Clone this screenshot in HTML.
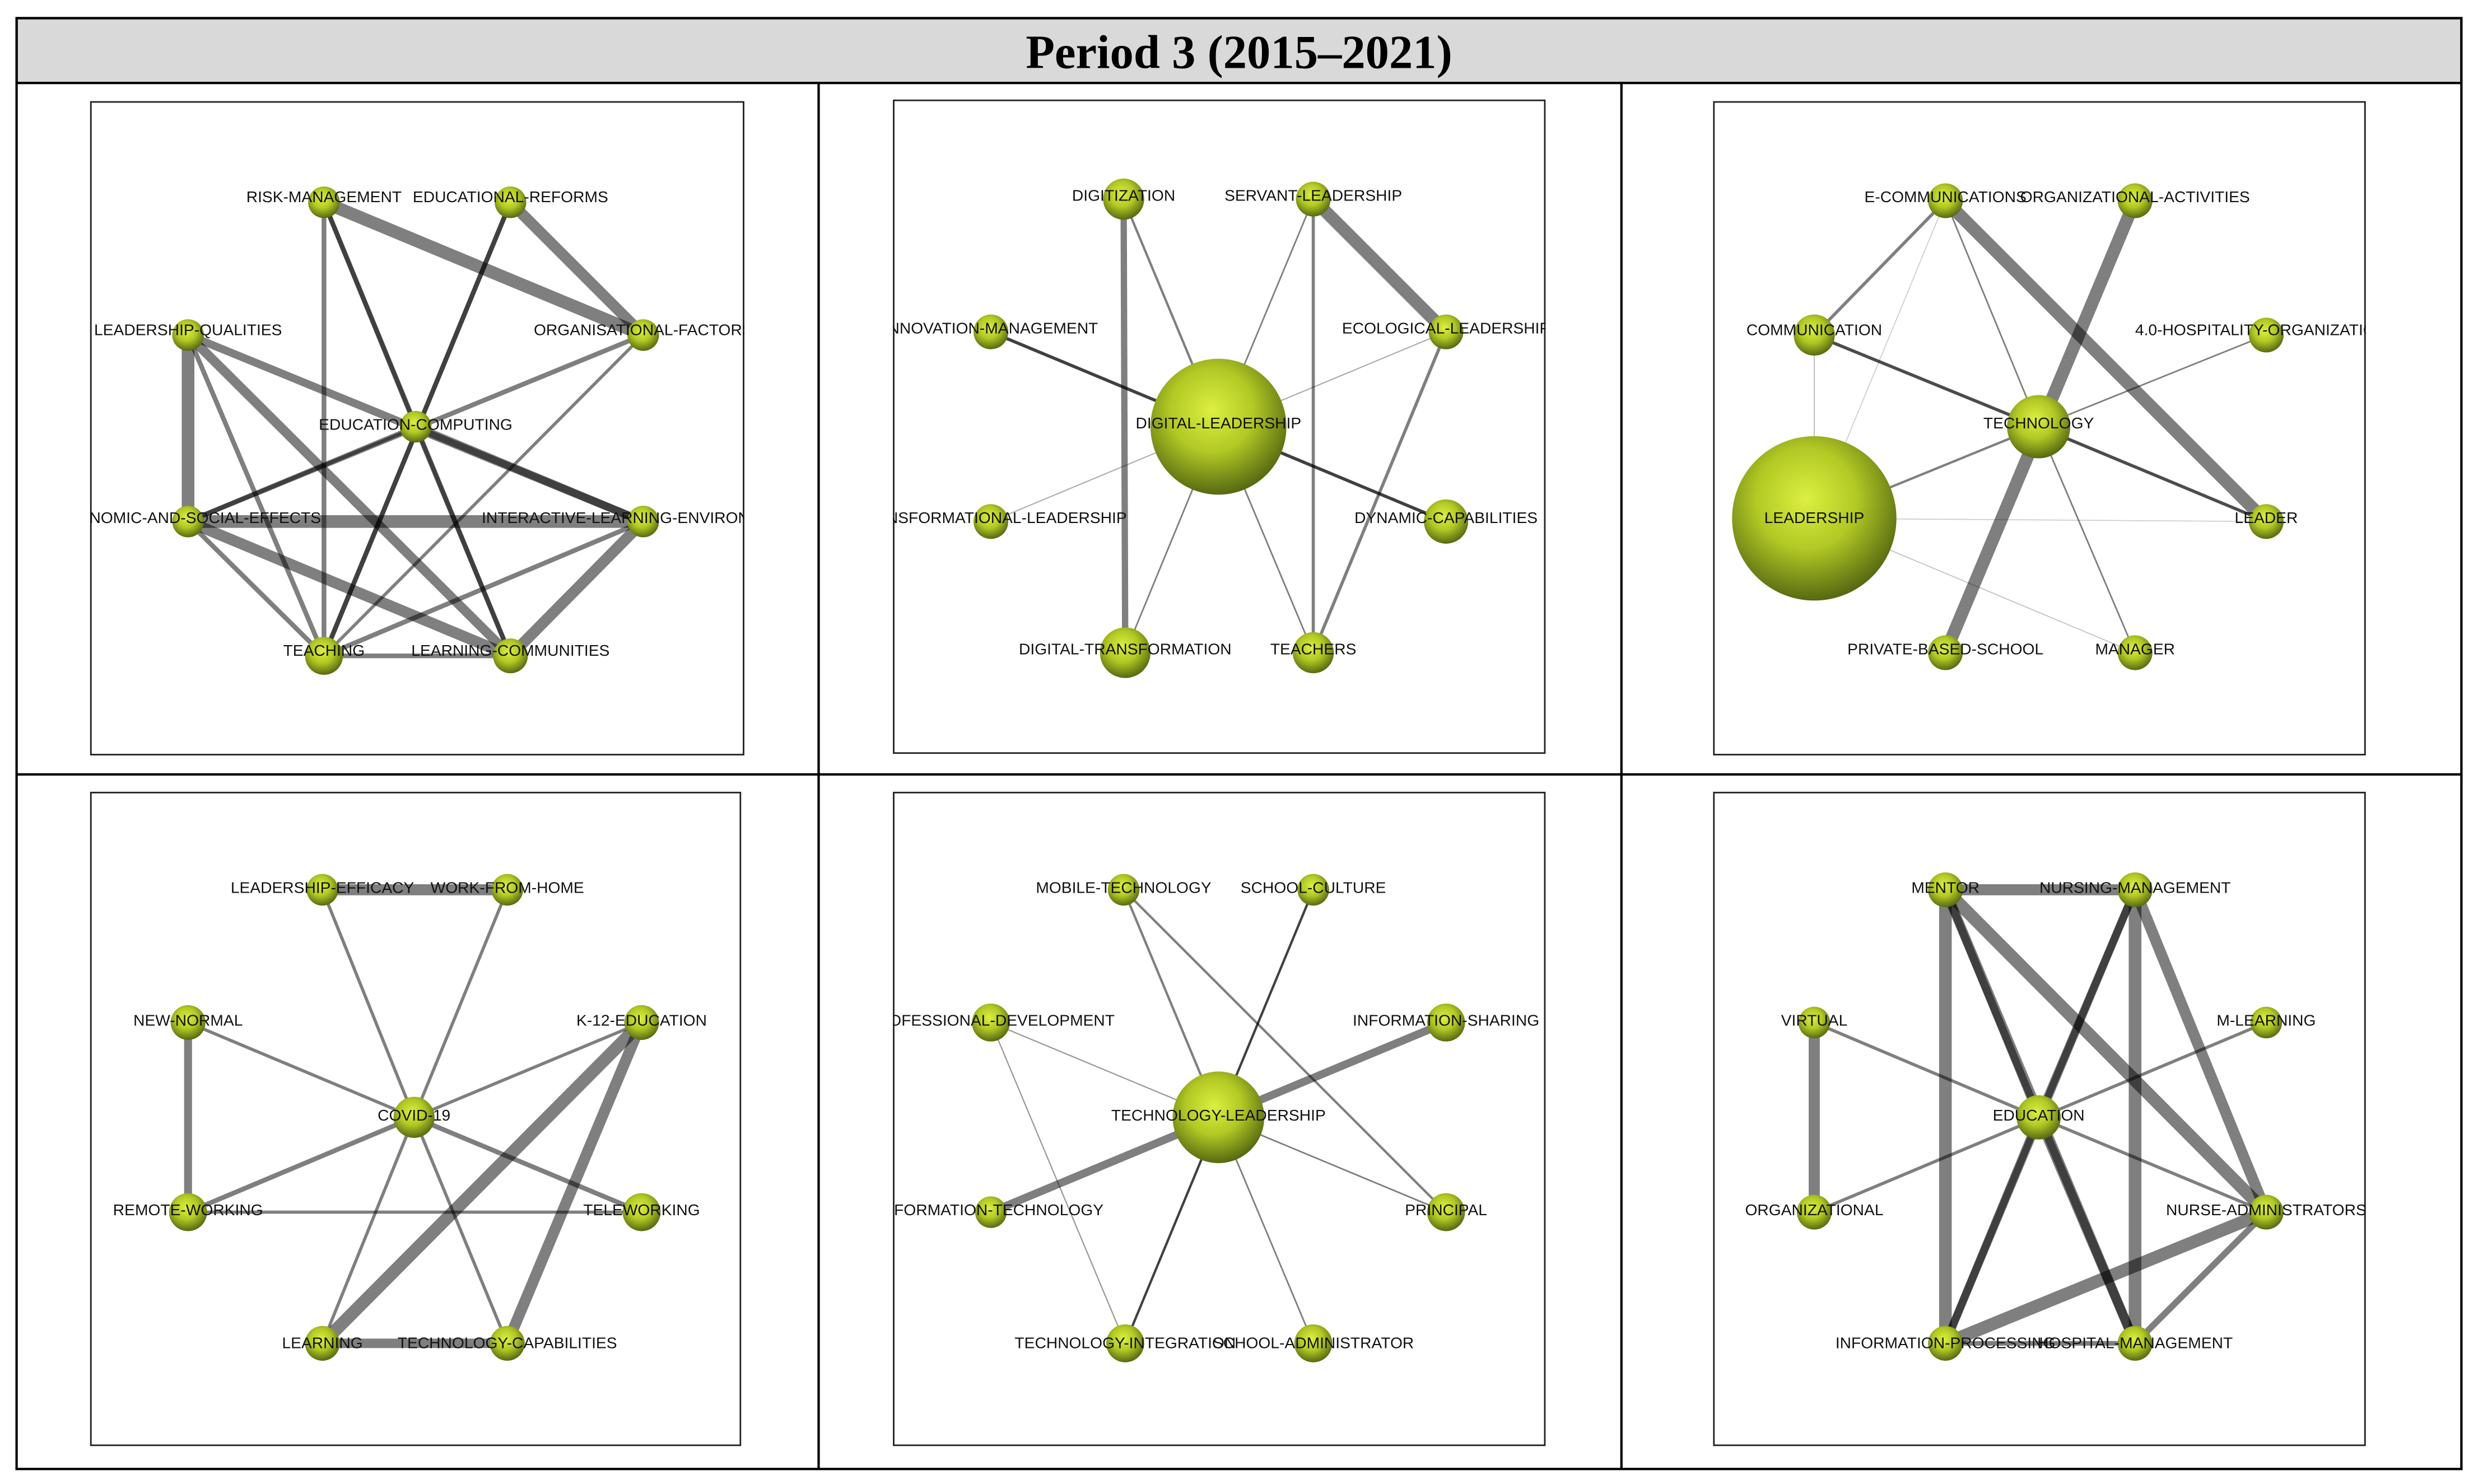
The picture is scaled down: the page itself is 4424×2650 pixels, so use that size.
<!DOCTYPE html>
<html><head><meta charset="utf-8"><style>html,body{margin:0;padding:0;background:#fff}svg{display:block}</style></head>
<body>
<svg width="4424" height="2650" viewBox="0 0 1568 939" preserveAspectRatio="none" xmlns="http://www.w3.org/2000/svg">
<defs>
<radialGradient id="g" cx="0.45" cy="0.38" r="0.62">
<stop offset="0" stop-color="#dcf040"/><stop offset="0.5" stop-color="#b2c824"/><stop offset="1" stop-color="#566a12"/>
</radialGradient>
<clipPath id="c1"><rect x="57" y="64" width="414" height="414"/></clipPath>
<clipPath id="c2"><rect x="565" y="63" width="413" height="414"/></clipPath>
<clipPath id="c3"><rect x="1084" y="64" width="413" height="414"/></clipPath>
<clipPath id="c4"><rect x="57" y="501" width="412" height="414"/></clipPath>
<clipPath id="c5"><rect x="565" y="501" width="413" height="414"/></clipPath>
<clipPath id="c6"><rect x="1084" y="501" width="413" height="414"/></clipPath>
</defs>
<rect x="0" y="0" width="1568" height="939" fill="#fff"/>
<rect x="10.5" y="11.5" width="1547" height="41" fill="#d9d9d9" stroke="#000" stroke-width="1.5"/>
<text x="784" y="43" text-anchor="middle" font-family="Liberation Serif, serif" font-weight="bold" font-size="30">Period 3 (2015–2021)</text>
<rect x="10.5" y="11.5" width="1547" height="918" fill="none" stroke="#000" stroke-width="1.5"/>
<line x1="518" y1="52" x2="518" y2="929" stroke="#000" stroke-width="1.5"/>
<line x1="1026" y1="52" x2="1026" y2="929" stroke="#000" stroke-width="1.5"/>
<line x1="10" y1="490" x2="1557" y2="490" stroke="#000" stroke-width="1.5"/>
<g fill="none" stroke="#222" stroke-width="1">
<rect x="57.5" y="64.5" width="413" height="413"/>
<rect x="565.5" y="63.5" width="412" height="413"/>
<rect x="1084.5" y="64.5" width="412" height="413"/>
<rect x="57.5" y="501.5" width="411" height="413"/>
<rect x="565.5" y="501.5" width="412" height="413"/>
<rect x="1084.5" y="501.5" width="412" height="413"/>
</g>

<!-- Panel 1 -->
<g clip-path="url(#c1)">
<g stroke="#000" stroke-opacity="0.5" stroke-linecap="round">
<line x1="205" y1="128" x2="407" y2="212" stroke-width="8"/>
<line x1="323" y1="128" x2="407" y2="212" stroke-width="7"/>
<line x1="323" y1="128" x2="205" y2="415" stroke-width="3" stroke-opacity="0.75"/>
<line x1="205" y1="128" x2="205" y2="415" stroke-width="3"/>
<line x1="205" y1="128" x2="263" y2="270" stroke-width="3"/>
<line x1="205" y1="128" x2="323" y2="415" stroke-width="3"/>
<line x1="119" y1="212" x2="119" y2="330" stroke-width="8"/>
<line x1="119" y1="212" x2="323" y2="415" stroke-width="6"/>
<line x1="119" y1="212" x2="407" y2="330" stroke-width="5"/>
<line x1="119" y1="212" x2="205" y2="415" stroke-width="3"/>
<line x1="119" y1="330" x2="407" y2="330" stroke-width="8"/>
<line x1="119" y1="330" x2="263" y2="270" stroke-width="3"/>
<line x1="119" y1="330" x2="407" y2="212" stroke-width="3"/>
<line x1="119" y1="330" x2="323" y2="415" stroke-width="7"/>
<line x1="119" y1="330" x2="205" y2="415" stroke-width="3"/>
<line x1="263" y1="270" x2="407" y2="330" stroke-width="5"/>
<line x1="263" y1="270" x2="323" y2="415" stroke-width="3"/>
<line x1="407" y1="330" x2="323" y2="415" stroke-width="7"/>
<line x1="407" y1="330" x2="205" y2="415" stroke-width="3"/>
<line x1="407" y1="212" x2="205" y2="415" stroke-width="2"/>
<line x1="205" y1="415" x2="323" y2="415" stroke-width="3"/>
</g>
<g fill="url(#g)">
<circle cx="205" cy="128" r="10"/><circle cx="323" cy="128" r="10"/><circle cx="119" cy="212" r="10"/><circle cx="407" cy="212" r="10"/><circle cx="263" cy="270" r="10"/><circle cx="119" cy="330" r="10"/><circle cx="407" cy="330" r="10"/><circle cx="205" cy="415" r="12"/><circle cx="323" cy="415" r="11"/>
</g>
<g font-family="Liberation Sans, sans-serif" font-size="10" text-anchor="middle" fill="#111">
<text x="205" y="128">RISK-MANAGEMENT</text><text x="323" y="128">EDUCATIONAL-REFORMS</text><text x="119" y="212">LEADERSHIP-QUALITIES</text><text x="407" y="212">ORGANISATIONAL-FACTORS</text><text x="263" y="272">EDUCATION-COMPUTING</text><text x="119" y="331">ECONOMIC-AND-SOCIAL-EFFECTS</text><text x="407" y="331">INTERACTIVE-LEARNING-ENVIRONMENTS</text><text x="205" y="415">TEACHING</text><text x="323" y="415">LEARNING-COMMUNITIES</text>
</g>
</g>

<!-- Panel 2 -->
<g clip-path="url(#c2)">
<g stroke="#000" stroke-opacity="0.5" stroke-linecap="round">
<line x1="711" y1="126" x2="712" y2="413" stroke-width="4"/>
<line x1="831" y1="126" x2="915" y2="210" stroke-width="8"/>
<line x1="831" y1="126" x2="831" y2="413" stroke-width="2"/>
<line x1="831" y1="126" x2="771" y2="270" stroke-width="1"/>
<line x1="915" y1="210" x2="831" y2="413" stroke-width="2"/>
<line x1="915" y1="210" x2="771" y2="270" stroke-width="0.7" stroke-opacity="0.35"/>
<line x1="627" y1="210" x2="771" y2="270" stroke-width="2" stroke-opacity="0.75"/>
<line x1="771" y1="270" x2="915" y2="330" stroke-width="2" stroke-opacity="0.75"/>
<line x1="711" y1="126" x2="771" y2="270" stroke-width="1.5"/>
<line x1="771" y1="270" x2="627" y2="330" stroke-width="0.8" stroke-opacity="0.3"/>
<line x1="771" y1="270" x2="712" y2="413" stroke-width="1"/>
<line x1="771" y1="270" x2="831" y2="413" stroke-width="1"/>
</g>
<g fill="url(#g)">
<circle cx="711" cy="126" r="13"/><circle cx="831" cy="126" r="11"/><circle cx="627" cy="210" r="11"/><circle cx="915" cy="210" r="11"/><circle cx="771" cy="270" r="43"/><circle cx="627" cy="330" r="11"/><circle cx="915" cy="330" r="14"/><circle cx="712" cy="413" r="16"/><circle cx="831" cy="413" r="13"/>
</g>
<g font-family="Liberation Sans, sans-serif" font-size="10" text-anchor="middle" fill="#111">
<text x="711" y="127">DIGITIZATION</text><text x="831" y="127">SERVANT-LEADERSHIP</text><text x="627" y="211">INNOVATION-MANAGEMENT</text><text x="915" y="211">ECOLOGICAL-LEADERSHIP</text><text x="771" y="271">DIGITAL-LEADERSHIP</text><text x="627" y="331">TRANSFORMATIONAL-LEADERSHIP</text><text x="915" y="331">DYNAMIC-CAPABILITIES</text><text x="712" y="414">DIGITAL-TRANSFORMATION</text><text x="831" y="414">TEACHERS</text>
</g>
</g>

<!-- Panel 3 -->
<g clip-path="url(#c3)">
<g stroke="#000" stroke-opacity="0.5" stroke-linecap="round">
<line x1="1231" y1="127" x2="1434" y2="330" stroke-width="8"/>
<line x1="1351" y1="127" x2="1231" y2="413" stroke-width="8"/>
<line x1="1231" y1="127" x2="1148" y2="212" stroke-width="2"/>
<line x1="1231" y1="127" x2="1290" y2="270" stroke-width="1"/>
<line x1="1231" y1="127" x2="1148" y2="328" stroke-width="0.6" stroke-opacity="0.2"/>
<line x1="1148" y1="212" x2="1290" y2="270" stroke-width="2" stroke-opacity="0.7"/>
<line x1="1148" y1="212" x2="1148" y2="328" stroke-width="0.6" stroke-opacity="0.3"/>
<line x1="1290" y1="270" x2="1434" y2="330" stroke-width="2" stroke-opacity="0.7"/>
<line x1="1290" y1="270" x2="1434" y2="212" stroke-width="1"/>
<line x1="1290" y1="270" x2="1351" y2="413" stroke-width="1"/>
<line x1="1290" y1="270" x2="1148" y2="328" stroke-width="1.5"/>
<line x1="1148" y1="328" x2="1434" y2="330" stroke-width="0.6" stroke-opacity="0.2"/>
<line x1="1148" y1="328" x2="1351" y2="413" stroke-width="0.6" stroke-opacity="0.25"/>
</g>
<g fill="url(#g)">
<circle cx="1231" cy="127" r="11"/><circle cx="1351" cy="127" r="11"/><circle cx="1148" cy="212" r="13"/><circle cx="1434" cy="212" r="11"/><circle cx="1290" cy="270" r="20"/><circle cx="1148" cy="328" r="52"/><circle cx="1434" cy="330" r="11"/><circle cx="1231" cy="413" r="11"/><circle cx="1351" cy="413" r="11"/>
</g>
<g font-family="Liberation Sans, sans-serif" font-size="10" text-anchor="middle" fill="#111">
<text x="1231" y="128">E-COMMUNICATIONS</text><text x="1351" y="128">ORGANIZATIONAL-ACTIVITIES</text><text x="1148" y="212">COMMUNICATION</text><text x="1434" y="212">4.0-HOSPITALITY-ORGANIZATIONS</text><text x="1290" y="271">TECHNOLOGY</text><text x="1148" y="331">LEADERSHIP</text><text x="1434" y="331">LEADER</text><text x="1231" y="414">PRIVATE-BASED-SCHOOL</text><text x="1351" y="414">MANAGER</text>
</g>
</g>

<!-- Panel 4 -->
<g clip-path="url(#c4)">
<g stroke="#000" stroke-opacity="0.5" stroke-linecap="round">
<line x1="204" y1="563" x2="321" y2="563" stroke-width="7"/>
<line x1="204" y1="563" x2="262" y2="707" stroke-width="2"/>
<line x1="321" y1="563" x2="262" y2="707" stroke-width="2"/>
<line x1="119" y1="647" x2="119" y2="767" stroke-width="5"/>
<line x1="119" y1="647" x2="262" y2="707" stroke-width="2"/>
<line x1="406" y1="647" x2="204" y2="850" stroke-width="8"/>
<line x1="406" y1="647" x2="321" y2="850" stroke-width="7"/>
<line x1="406" y1="647" x2="262" y2="707" stroke-width="2"/>
<line x1="262" y1="707" x2="119" y2="767" stroke-width="3"/>
<line x1="262" y1="707" x2="406" y2="767" stroke-width="3"/>
<line x1="262" y1="707" x2="204" y2="850" stroke-width="2"/>
<line x1="262" y1="707" x2="321" y2="850" stroke-width="2"/>
<line x1="119" y1="767" x2="406" y2="767" stroke-width="2"/>
<line x1="204" y1="850" x2="321" y2="850" stroke-width="6"/>
</g>
<g fill="url(#g)">
<circle cx="204" cy="563" r="10"/><circle cx="321" cy="563" r="10"/><circle cx="119" cy="647" r="11"/><circle cx="406" cy="647" r="11"/><circle cx="262" cy="707" r="13"/><circle cx="119" cy="767" r="12"/><circle cx="406" cy="767" r="12"/><circle cx="204" cy="850" r="11"/><circle cx="321" cy="850" r="11"/>
</g>
<g font-family="Liberation Sans, sans-serif" font-size="10" text-anchor="middle" fill="#111">
<text x="204" y="565">LEADERSHIP-EFFICACY</text><text x="321" y="565">WORK-FROM-HOME</text><text x="119" y="649">NEW-NORMAL</text><text x="406" y="649">K-12-EDUCATION</text><text x="262" y="709">COVID-19</text><text x="119" y="769">REMOTE-WORKING</text><text x="406" y="769">TELEWORKING</text><text x="204" y="853">LEARNING</text><text x="321" y="853">TECHNOLOGY-CAPABILITIES</text>
</g>
</g>

<!-- Panel 5 -->
<g clip-path="url(#c5)">
<g stroke="#000" stroke-opacity="0.5" stroke-linecap="round">
<line x1="915" y1="647" x2="627" y2="767" stroke-width="5"/>
<line x1="831" y1="563" x2="712" y2="850" stroke-width="1.5" stroke-opacity="0.75"/>
<line x1="711" y1="563" x2="915" y2="767" stroke-width="1.5"/>
<line x1="711" y1="563" x2="771" y2="707" stroke-width="1.5"/>
<line x1="627" y1="647" x2="771" y2="707" stroke-width="0.8" stroke-opacity="0.4"/>
<line x1="627" y1="647" x2="712" y2="850" stroke-width="0.8" stroke-opacity="0.4"/>
<line x1="771" y1="707" x2="915" y2="767" stroke-width="1"/>
<line x1="771" y1="707" x2="831" y2="850" stroke-width="1"/>
</g>
<g fill="url(#g)">
<circle cx="711" cy="563" r="10"/><circle cx="831" cy="563" r="10"/><circle cx="627" cy="647" r="12"/><circle cx="915" cy="647" r="12"/><circle cx="771" cy="707" r="29"/><circle cx="627" cy="767" r="10"/><circle cx="915" cy="767" r="12"/><circle cx="712" cy="850" r="12"/><circle cx="831" cy="850" r="12"/>
</g>
<g font-family="Liberation Sans, sans-serif" font-size="10" text-anchor="middle" fill="#111">
<text x="711" y="565">MOBILE-TECHNOLOGY</text><text x="831" y="565">SCHOOL-CULTURE</text><text x="627" y="649">PROFESSIONAL-DEVELOPMENT</text><text x="915" y="649">INFORMATION-SHARING</text><text x="771" y="709">TECHNOLOGY-LEADERSHIP</text><text x="627" y="769">INFORMATION-TECHNOLOGY</text><text x="915" y="769">PRINCIPAL</text><text x="712" y="853">TECHNOLOGY-INTEGRATION</text><text x="831" y="853">SCHOOL-ADMINISTRATOR</text>
</g>
</g>

<!-- Panel 6 -->
<g clip-path="url(#c6)">
<g stroke="#000" stroke-opacity="0.5" stroke-linecap="round">
<line x1="1231" y1="563" x2="1351" y2="563" stroke-width="7"/>
<line x1="1231" y1="563" x2="1231" y2="850" stroke-width="8"/>
<line x1="1231" y1="563" x2="1351" y2="850" stroke-width="6"/>
<line x1="1231" y1="563" x2="1434" y2="767" stroke-width="8"/>
<line x1="1231" y1="563" x2="1290" y2="707" stroke-width="5"/>
<line x1="1351" y1="563" x2="1290" y2="707" stroke-width="5"/>
<line x1="1351" y1="563" x2="1351" y2="850" stroke-width="8"/>
<line x1="1351" y1="563" x2="1434" y2="767" stroke-width="7"/>
<line x1="1351" y1="563" x2="1231" y2="850" stroke-width="5"/>
<line x1="1148" y1="647" x2="1148" y2="767" stroke-width="7"/>
<line x1="1148" y1="647" x2="1290" y2="707" stroke-width="2"/>
<line x1="1148" y1="767" x2="1434" y2="647" stroke-width="2"/>
<line x1="1290" y1="707" x2="1434" y2="767" stroke-width="2"/>
<line x1="1290" y1="707" x2="1231" y2="850" stroke-width="5"/>
<line x1="1290" y1="707" x2="1351" y2="850" stroke-width="6"/>
<line x1="1231" y1="850" x2="1434" y2="767" stroke-width="8"/>
<line x1="1351" y1="850" x2="1434" y2="767" stroke-width="4"/>
<line x1="1231" y1="850" x2="1351" y2="850" stroke-width="3"/>
</g>
<g fill="url(#g)">
<circle cx="1231" cy="563" r="11"/><circle cx="1351" cy="563" r="11"/><circle cx="1148" cy="647" r="10"/><circle cx="1434" cy="647" r="10"/><circle cx="1290" cy="707" r="14"/><circle cx="1148" cy="767" r="11"/><circle cx="1434" cy="767" r="11"/><circle cx="1231" cy="850" r="11"/><circle cx="1351" cy="850" r="11"/>
</g>
<g font-family="Liberation Sans, sans-serif" font-size="10" text-anchor="middle" fill="#111">
<text x="1231" y="565">MENTOR</text><text x="1351" y="565">NURSING-MANAGEMENT</text><text x="1148" y="649">VIRTUAL</text><text x="1434" y="649">M-LEARNING</text><text x="1290" y="709">EDUCATION</text><text x="1148" y="769">ORGANIZATIONAL</text><text x="1434" y="769">NURSE-ADMINISTRATORS</text><text x="1231" y="853">INFORMATION-PROCESSING</text><text x="1351" y="853">HOSPITAL-MANAGEMENT</text>
</g>
</g>
</svg>
</body></html>
